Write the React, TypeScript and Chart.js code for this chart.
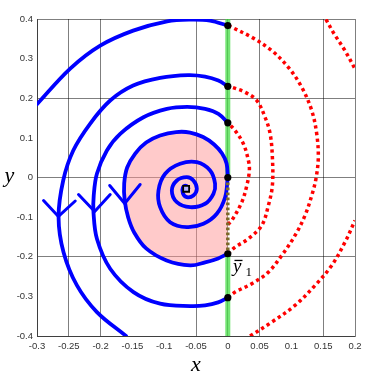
import React, { useEffect, useRef } from "react";
import { Chart, registerables } from "chart.js";

Chart.register(...registerables);

type P = [number, number];

// Tick labels and grid positions
const xTicks = [-0.3, -0.25, -0.2, -0.15, -0.1, -0.05, 0, 0.05, 0.1, 0.15, 0.2];
const yTicks = [-0.4, -0.3, -0.2, -0.1, 0, 0.1, 0.2, 0.3, 0.4];
const xGrid = [-0.3, -0.25, -0.2, -0.05, 0, 0.05, 0.15, 0.2];
const yGrid = [-0.4, -0.2, 0, 0.2, 0.4];

// Crossing points on the switching line x = 0
const crossingY = [0.3833, 0.2302, 0.1379, 0, -0.1924, -0.3033];
const focus: P = [-0.0655, -0.0285];

// Blue trajectories (x < 0)
const blueA: P[] = [
  [-0.3, 0.185], [-0.2478, 0.2748], [-0.2006, 0.3328], [-0.1488, 0.3707],
  [-0.0954, 0.3941], [-0.0592, 0.3984], [-0.0278, 0.3959], [0, 0.3833],
];
const blueB: P[] = [
  [0, 0.2302], [-0.0148, 0.2446], [-0.0357, 0.2547], [-0.0624, 0.2584],
  [-0.1064, 0.2514], [-0.1488, 0.232], [-0.1849, 0.1942], [-0.2163, 0.1362],
  [-0.243, 0.0681], [-0.2588, -0.0076], [-0.2661, -0.1001], [-0.2583, -0.1884],
  [-0.2372, -0.2723], [-0.2058, -0.3396], [-0.16, -0.4],
];
const blueC: P[] = [
  [0, 0.1379], [-0.0148, 0.1606], [-0.0357, 0.1732], [-0.0639, 0.1783],
  [-0.0958, 0.1732], [-0.1326, 0.152], [-0.1692, 0.1102], [-0.1901, 0.0681],
  [-0.2058, 0.0093], [-0.2108, -0.0454], [-0.2112, -0.0875], [-0.2058, -0.1546],
  [-0.1849, -0.2302], [-0.1483, -0.2892], [-0.1064, -0.3185], [-0.0592, -0.3245],
  [-0.0357, -0.3227], [-0.0152, -0.3152], [0, -0.3033],
];
const blueD: P[] = [
  [0, 0], [-0.0019, 0.0353], [-0.009, 0.0605], [-0.0215, 0.0832],
  [-0.0388, 0.1021], [-0.0592, 0.1135], [-0.0812, 0.1147], [-0.1064, 0.1059],
  [-0.1284, 0.0883], [-0.1456, 0.0605], [-0.1582, 0.0252], [-0.1629, -0.0151],
  [-0.1621, -0.058], [-0.1566, -0.1009], [-0.1472, -0.1387], [-0.1284, -0.179],
  [-0.0962, -0.2093], [-0.0592, -0.2219], [-0.0357, -0.2143], [-0.0152, -0.2042],
  [0, -0.1924],
];
const innerSpiral: P[] = [
  [0, 0], [-0.0042, -0.0497], [-0.0173, -0.0915], [-0.0383, -0.1167],
  [-0.0644, -0.1253], [-0.0907, -0.1127], [-0.1064, -0.0749], [-0.109, -0.0328],
  [-0.0985, 0.0093], [-0.0749, 0.0345], [-0.0487, 0.0386], [-0.0278, 0.0177],
  [-0.02, -0.0159], [-0.0226, -0.0411], [-0.0357, -0.0663], [-0.0592, -0.0749],
  [-0.0801, -0.0623], [-0.088, -0.0328], [-0.0801, -0.0076], [-0.0644, 0.0008],
  [-0.0541, -0.0076], [-0.0487, -0.0285], [-0.0541, -0.0454], [-0.0644, -0.0497],
  [-0.0707, -0.0396], [-0.0707, -0.026], [-0.0655, -0.0209], [-0.0619, -0.027],
];

// Direction chevrons
const chevron1: P[] = [[-0.2897, -0.058], [-0.2663, -0.0983], [-0.2399, -0.0593]];
const chevron2: P[] = [[-0.2347, -0.0429], [-0.2093, -0.0857], [-0.1849, -0.0429]];
const chevron3: P[] = [[-0.1857, -0.0202], [-0.1621, -0.0656], [-0.1378, -0.0177]];

// Red dotted trajectories (x > 0)
const redOuter: P[] = [
  [0, -0.3033], [0.0115, -0.2892], [0.0377, -0.268], [0.0638, -0.2388],
  [0.0848, -0.1967], [0.1057, -0.1462], [0.1214, -0.0958], [0.132, -0.0454],
  [0.1387, -0.0025], [0.1423, 0.0512], [0.1398, 0.1102], [0.132, 0.1689],
  [0.1163, 0.2277], [0.0952, 0.2781], [0.0691, 0.3202], [0.0377, 0.3538],
  [0.0063, 0.379], [0, 0.3833],
];
const redMid: P[] = [
  [0, -0.1924], [0.0115, -0.1757], [0.0324, -0.1546], [0.0534, -0.121],
  [0.0638, -0.0706], [0.0701, -0.0202], [0.0701, 0.0512], [0.0665, 0.1109],
  [0.0586, 0.152], [0.0456, 0.1942], [0.0272, 0.2151], [0.0063, 0.2277], [0, 0.2302],
];
const redSmall: P[] = [
  [0, -0.1185], [0.0063, -0.1084], [0.022, -0.0623], [0.0299, -0.0202],
  [0.0339, 0.0177], [0.0324, 0.0429], [0.0245, 0.085], [0.0115, 0.1185], [0, 0.1379],
];
const redTopRight: P[] = [[0.1544, 0.3991], [0.1673, 0.3623], [0.1843, 0.3202], [0.2, 0.2741]];
const redBottomRight: P[] = [
  [0.035, -0.4], [0.0691, -0.3649], [0.1057, -0.3227], [0.1372, -0.2723],
  [0.1634, -0.2219], [0.1843, -0.1631], [0.2, -0.1084],
];

// Switching line pieces
const greenUpper: P[] = [[0, 0], [0, 0.4]];
const greenLower: P[] = [[0, -0.1924], [0, -0.4]];
const slidingSeg: P[] = [[0, 0], [0, -0.1924]];

const toXY = (pts: P[]) => pts.map(([x, y]) => ({ x, y }));
const near = (v: number, arr: number[]) => arr.some((a) => Math.abs(a - v) < 1e-6);
const fmt = (v: number) => String(Number(v.toFixed(2)));

const BLUE = "#0000ff";
const RED = "#ff0000";
const TENSION = 0.35;

function curve(pts: P[], color: string, width: number, extra: any = {}) {
  return {
    data: toXY(pts),
    showLine: true,
    borderColor: color,
    backgroundColor: color,
    borderWidth: width,
    pointRadius: 0,
    pointHoverRadius: 0,
    tension: TENSION,
    fill: false,
    borderCapStyle: "round",
    borderJoinStyle: "round",
    order: 1,
    ...extra,
  };
}

const labelsPlugin = {
  id: "axisLabels",
  afterDraw(chart: any) {
    const ctx = chart.ctx;
    const { left, right } = chart.chartArea;
    ctx.save();
    ctx.fillStyle = "#000";
    ctx.textBaseline = "alphabetic";
    ctx.textAlign = "center";
    ctx.font = 'italic 22px "Liberation Serif"';
    ctx.fillText("x", (left + right) / 2, 371);
    ctx.fillText("y", 9.5, 182);
    // y-bar with subscript 1
    ctx.textAlign = "left";
    ctx.font = 'italic 19px "Liberation Serif"';
    ctx.fillText("y", 233, 272);
    ctx.fillRect(234.5, 259.8, 8, 1.3);
    ctx.font = '13px "Liberation Serif"';
    ctx.fillText("1", 245.5, 276);
    ctx.restore();
  },
};

export default function App() {
  const ref = useRef<HTMLCanvasElement | null>(null);
  useEffect(() => {
    if (!ref.current) return;
    const gridColor = "rgba(0,0,0,0.5)";
    const redDash = { borderDash: [3.3, 3.3], borderCapStyle: "butt", order: 2 };
    const chart = new Chart(ref.current, {
      type: "scatter",
      data: {
        datasets: [
          // crossing markers
          {
            data: crossingY.map((y) => ({ x: 0, y })),
            pointRadius: 3.6,
            pointBackgroundColor: "#000",
            pointBorderColor: "#000",
            pointBorderWidth: 0,
            showLine: false,
            order: 0,
          } as any,
          {
            data: [{ x: focus[0], y: focus[1] }],
            pointStyle: "rect",
            pointRadius: 4.2,
            pointBackgroundColor: "#b4b4ff",
            pointBorderColor: "#000",
            pointBorderWidth: 1.8,
            showLine: false,
            order: 0,
          } as any,
          curve(slidingSeg, "rgb(125,105,40)", 3.5, { tension: 0, borderDash: [2.7, 2.3], borderCapStyle: "butt", order: 0.5 }),
          curve(blueA, BLUE, 3.8),
          curve(blueB, BLUE, 3.8),
          curve(blueC, BLUE, 3.8),
          curve(blueD, BLUE, 3.8),
          curve(innerSpiral, BLUE, 3.8),
          curve(chevron1, BLUE, 3, { tension: 0 }),
          curve(chevron2, BLUE, 3, { tension: 0 }),
          curve(chevron3, BLUE, 3, { tension: 0 }),
          curve(redOuter, RED, 3.5, redDash),
          curve(redMid, RED, 3.5, redDash),
          curve(redSmall, RED, 3.5, redDash),
          curve(redTopRight, RED, 3.5, redDash),
          curve(redBottomRight, RED, 3.5, redDash),
          curve(greenUpper, "rgba(70,220,70,0.75)", 5, { tension: 0, borderCapStyle: "butt", order: 3 }),
          curve(greenLower, "rgba(70,220,70,0.75)", 5, { tension: 0, borderCapStyle: "butt", order: 3 }),
          // pink region enclosed by trajectory D and the sliding segment
          {
            data: toXY(blueD),
            showLine: true,
            borderWidth: 0,
            borderColor: "rgba(0,0,0,0)",
            backgroundColor: "rgba(255,150,150,0.5)",
            fill: "shape",
            tension: TENSION,
            pointRadius: 0,
            order: 4,
          } as any,
        ],
      },
      options: {
        animation: false,
        responsive: false,
        events: [],
        layout: { padding: { top: 19, right: 19, left: 0, bottom: 0 } },
        plugins: {
          legend: { display: false },
          tooltip: { enabled: false },
          title: { display: false },
        },
        scales: {
          x: {
            type: "linear",
            min: -0.3,
            max: 0.2,
            afterBuildTicks: (s: any) => {
              s.ticks = xTicks.map((v) => ({ value: v }));
            },
            afterFit: (s: any) => {
              s.height = 38;
            },
            ticks: {
              callback: (v: any) => fmt(Number(v)),
              padding: 5,
              maxRotation: 0,
              autoSkip: false,
              color: "#333",
              font: { family: "'Liberation Sans', Arial", size: 9.5 },
            },
            grid: {
              drawTicks: false,
              lineWidth: 1,
              color: (c: any) => (near(c.tick?.value, xGrid) ? gridColor : "rgba(0,0,0,0)"),
            },
            border: { display: true, color: gridColor, width: 1 },
          },
          y: {
            type: "linear",
            min: -0.4,
            max: 0.4,
            afterBuildTicks: (s: any) => {
              s.ticks = yTicks.map((v) => ({ value: v }));
            },
            afterFit: (s: any) => {
              s.width = 37;
            },
            ticks: {
              callback: (v: any) => fmt(Number(v)),
              padding: 4,
              autoSkip: false,
              color: "#333",
              font: { family: "'Liberation Sans', Arial", size: 9.5 },
            },
            grid: {
              drawTicks: false,
              lineWidth: 1,
              color: (c: any) => (near(c.tick?.value, yGrid) ? gridColor : "rgba(0,0,0,0)"),
            },
            border: { display: true, color: gridColor, width: 1 },
          },
        },
      } as any,
      plugins: [labelsPlugin],
    });
    return () => chart.destroy();
  }, []);

  return (
    <div style={{ position: "absolute", left: 0, top: 0, width: 374, height: 374, background: "#fff" }}>
      <canvas ref={ref} width={374} height={374} style={{ width: 374, height: 374, display: "block" }} />
    </div>
  );
}
